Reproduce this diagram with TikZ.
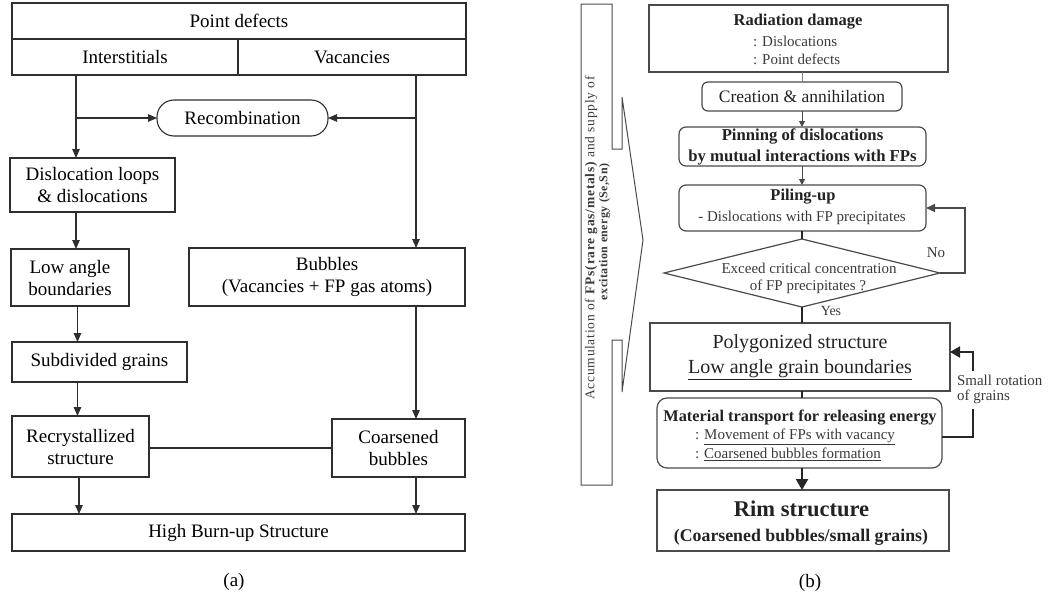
\documentclass[tikz,border=0pt]{standalone}
\usepackage{fontspec}
\setmainfont{Liberation Serif}
\usetikzlibrary{arrows.meta,shapes.geometric}
\definecolor{lineA}{HTML}{2E2E2E}
\definecolor{lineB}{HTML}{4A4A4A}
\definecolor{textB}{HTML}{222222}
\definecolor{subB}{HTML}{3A3A3A}
\newcommand{\fsz}[2]{\fontsize{#1}{#2}\selectfont}
\begin{document}
\begin{tikzpicture}[x=1pt,y=-1pt,
  every node/.style={inner sep=0pt,outer sep=0pt},
  la/.style={draw=lineA,line width=1.1pt},
  boxa/.style={draw=lineA,line width=1.1pt,rectangle,align=center,font=\fsz{19}{22},text=black},
  arra/.style={draw=lineA,line width=1.1pt,-{Triangle[length=9pt,width=7.5pt]}},
  boxb/.style={draw=lineB,line width=1.2pt,rectangle,align=center,text=textB},
  rboxb/.style={boxb,rounded corners=7pt},
  thinb/.style={draw=lineB!70,line width=0.8pt},
  arrb/.style={draw=lineB,line width=1pt,-{Triangle[length=6pt,width=6pt]}},
  loopb/.style={draw=lineB,line width=1.2pt,-{Triangle[length=9pt,width=8pt]}},
  thickb/.style={draw=black!85,line width=2.3pt},
  tb/.style={text=textB},
  sb/.style={text=subB,font=\fsz{15}{18}}]
\useasboundingbox (0,0) rectangle (1049,597);

% ---------------- panel (a) ----------------
\node[boxa,minimum width=454pt,minimum height=36pt] (pd) at (239,21) {Point defects};
\node[boxa,minimum width=226pt,minimum height=36pt] (inter) at (125,57) {Interstitials};
\node[boxa,minimum width=228pt,minimum height=36pt] (vac) at (352,57) {Vacancies};
\node[boxa,rounded corners=17pt,minimum width=171pt,minimum height=36pt] (rec) at (242.5,118) {Recombination};
\node[boxa,minimum width=165pt,minimum height=54pt] (disl) at (92.5,185) {Dislocation loops\\\& dislocations};
\node[boxa,minimum width=118pt,minimum height=57pt] (low) at (70,277.5) {Low angle\\boundaries};
\node[boxa,minimum width=276pt,minimum height=58pt] (bub) at (327,277) {Bubbles\\(Vacancies + FP gas atoms)};
\node[boxa,minimum width=175pt,minimum height=40pt] (sub) at (99.5,362) {Subdivided grains};
\node[boxa,minimum width=137pt,minimum height=61pt] (recr) at (80.5,446.5) {Recrystallized\\structure};
\node[boxa,minimum width=133pt,minimum height=58pt] (coars) at (398.5,448) {Coarsened\\bubbles};
\node[boxa,minimum width=453pt,minimum height=37pt] (hbs) at (238.5,532.5) {High Burn-up Structure};
\node[font=\fsz{19}{22}] (capa) at (234,582) {(a)};

\coordinate (ix) at (76,0);
\coordinate (ix2) at (77.5,0);
\coordinate (ix3) at (79,0);
\coordinate (vx) at (416,0);
\draw[arra] (ix |- inter.south) -- (ix |- disl.north);
\draw[arra] (ix |- rec.west) -- (rec.west);
\draw[arra] (vx |- vac.south) -- (vx |- bub.north);
\draw[arra] (vx |- rec.east) -- (rec.east);
\draw[arra] (ix |- disl.south) -- (ix |- low.north);
\draw[arra] (ix2 |- low.south) -- (ix2 |- sub.north);
\draw[arra] (ix2 |- sub.south) -- (ix2 |- recr.north);
\draw[arra] (vx |- bub.south) -- (vx |- coars.north);
\draw[la] (recr.east |- coars.west) -- (coars.west);
\draw[arra] (ix3 |- recr.south) -- (ix3 |- hbs.north);
\draw[arra] (vx |- coars.south) -- (vx |- hbs.north);

% ---------------- panel (b) ----------------
% side arrow strip
\draw[draw=lineB,line width=1pt] (581,4) -- (612,4) -- (612,149) -- (622,149) -- (622,97) -- (643,240)
  -- (622,392) -- (622,340) -- (612,340) -- (612,485) -- (581,485) -- cycle;
\node[text=subB,rotate=90,font=\fsz{13.5}{16}\addfontfeature{LetterSpace=5.5}] (side1) at (591,238) {Accumulation of \textbf{FPs(rare gas/metals)} and supply of};
\node[text=subB,rotate=90,font=\fsz{12}{14}\bfseries\addfontfeature{LetterSpace=3.5}] (side2) at (604.5,232) {excitation energy (Se,Sn)};

% boxes
\node[boxb,minimum width=299pt,minimum height=67pt] (rad) at (798.5,38.5) {};
\node[tb,font=\fsz{16.5}{20}\bfseries] (radt) at (798,22) {Radiation damage};
\node[sb,anchor=west] (rad1) at (753,41) {: Dislocations};
\node[sb,anchor=west] (rad2) at (753,59) {: Point defects};

\node[rboxb,rounded corners=6pt,minimum width=200pt,minimum height=29pt,font=\fsz{17.5}{20}] (cre) at (802,96.5) {Creation \& annihilation};

\node[rboxb,minimum width=247pt,minimum height=39pt,font=\fsz{16.7}{21}\bfseries] (pin) at (802.5,146.5) {Pinning of dislocations\\by mutual interactions with FPs};

\node[rboxb,minimum width=247pt,minimum height=46pt] (pil) at (802.5,208) {};
\node[tb,font=\fsz{16.5}{20}\bfseries] (pilt) at (803,197) {Piling-up};
\node[sb] (pil1) at (802,217.5) {- Dislocations with FP precipitates};

\node[draw=lineB,line width=1.2pt,diamond,minimum width=276pt,minimum height=68pt] (dia) at (802,273) {};
\node[sb] (dia1) at (809,268.5) {Exceed critical concentration};
\node[sb] (dia2) at (808,286.5) {of FP precipitates ?};
\node[sb,font=\fsz{14}{16}] (yes) at (831,311) {Yes};
\node[sb] (no) at (936,253) {No};

\node[boxb,minimum width=300pt,minimum height=68pt,font=\fsz{20}{25}] (pol) at (800,357) {Polygonized structure\\\underline{Low angle grain boundaries}};

\node[rboxb,rounded corners=10pt,minimum width=285pt,minimum height=70pt] (mat) at (799.5,433) {};
\node[tb,font=\fsz{16.3}{20}\bfseries] (matt) at (800,418) {Material transport for releasing energy};
\node[sb,anchor=west] (mat1) at (695,437) {: \underline{Movement of FPs with vacancy}};
\node[sb,anchor=west] (mat2) at (695,454) {: \underline{Coarsened bubbles formation}};

\node[boxb,minimum width=292pt,minimum height=61pt] (rim) at (803,520.5) {};
\node[tb,font=\fsz{22.5}{26}\bfseries] (rimt) at (801.5,509) {Rim structure};
\node[tb,font=\fsz{17.8}{21}\bfseries] (rim1) at (801,537) {(Coarsened bubbles/small grains)};

\node[font=\fsz{19}{22}] (capb) at (810,583) {(b)};

\node[sb,anchor=west] (sr1) at (957,380) {Small rotation};
\node[sb,anchor=west] (sr2) at (957,397) {of grains};

% connectors
\coordinate (cx) at (802,0);
\draw[thinb] (cx |- rad.south) -- (cx |- cre.north);
\draw[arrb] (cx |- cre.south) -- (cx |- pin.north);
\draw[arrb] (cx |- pin.south) -- (cx |- pil.north);
\draw[thickb] (cx |- pil.south) -- (dia.north);
\draw[thickb] (dia.south) -- (cx |- pol.north);
\draw[thickb] (cx |- pol.south) -- (cx |- mat.north);
\draw[thickb,-{Triangle[length=11pt,width=12pt]}] (cx |- mat.south) -- (cx |- rim.north);

\coordinate (nx) at (965,0);
\draw[loopb] (dia.east) -- (nx |- dia.east) -- (nx |- pil.east) -- (pil.east);

\coordinate (rlo) at (973,409);
\coordinate (rhi) at (973,371);
\draw[thickb] ([yshift=-4pt]mat.east) -| (rlo);
\draw[thickb,-{Triangle[length=10pt,width=11pt]}] (rhi) |- ([yshift=5pt]pol.east);
\end{tikzpicture}
\end{document}
